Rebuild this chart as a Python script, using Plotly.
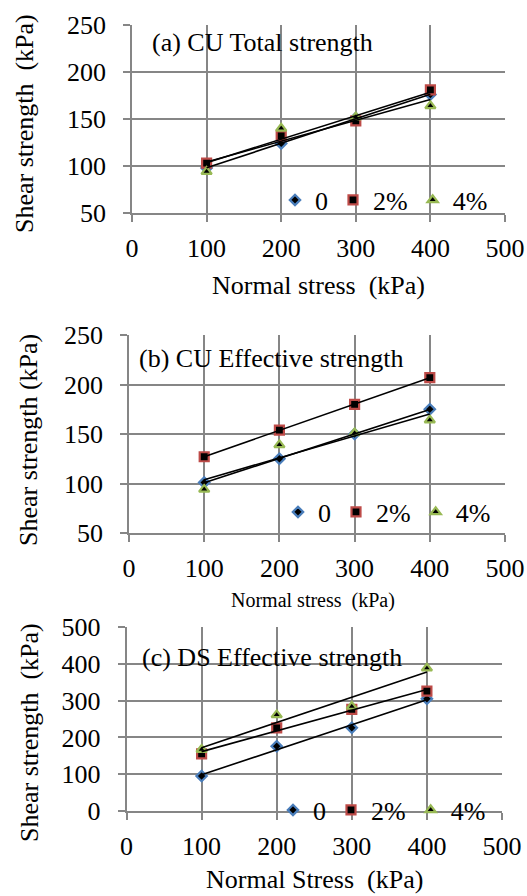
import numpy as np
import plotly.graph_objects as go

# ---------------- data ----------------
stress = [100, 200, 300, 400]
series_names = ["0", "2%", "4%"]

a_0 = [98, 124, 151, 176]
a_2 = [103, 132, 148, 181]
a_4 = [94, 140, 152, 164]

b_0 = [101, 125, 150, 175]
b_2 = [127, 154, 180, 207]
b_4 = [94, 139, 151, 164]

c_0 = [95, 176, 226, 305]
c_2 = [155, 226, 276, 326]
c_4 = [167, 261, 284, 388]

x_ticks = [0, 100, 200, 300, 400, 500]
ab_y_ticks = [50, 100, 150, 200, 250]
c_y_ticks = [0, 100, 200, 300, 400, 500]

panel_titles = ["(a) CU Total strength", "(b) CU Effective strength", "(c) DS Effective strength"]
x_titles = ["Normal stress  (kPa)", "Normal stress  (kPa)", "Normal Stress  (kPa)"]
y_titles = ["Shear strength  (kPa)", "Shear strength (kPa)", "Shear strength  (kPa)"]

# ---------------- style ----------------
W, H = 527, 896
FONT = "'Liberation Serif', 'Times New Roman', Times, serif"
GRID = "#868686"
edge_colors = ["#4A7EBB", "#BE4B48", "#98B954"]
symbols = ["diamond", "square", "triangle-up"]
sizes = [8, 9, 9]

def px(x):
    return x / W

def py(y):
    return 1 - y / H

# panel geometry (pixels): x0, x1, ytop, ybottom
geo = [
    (132, 505, 25, 213),
    (129, 505, 335, 533),
    (126.5, 502, 627, 811),
]

fig = go.Figure()
data_sets = [[a_0, a_2, a_4], [b_0, b_2, b_4], [c_0, c_2, c_4]]
legend_names = ["legend", "legend2", "legend3"]

for p, sets in enumerate(data_sets):
    xa = "x" if p == 0 else f"x{p+1}"
    ya = "y" if p == 0 else f"y{p+1}"
    for k, vals in enumerate(sets):
        fig.add_trace(go.Scatter(
            x=stress, y=vals, mode="markers", name=series_names[k],
            xaxis=xa, yaxis=ya, legend=legend_names[p],
            marker=dict(symbol=symbols[k], size=sizes[k], color="black",
                        line=dict(color=edge_colors[k], width=2.2)),
        ))
    for k, vals in enumerate(sets):
        m, c = np.polyfit(stress, vals, 1)
        xs = [min(stress), max(stress)]
        fig.add_trace(go.Scatter(
            x=xs, y=[m * xs[0] + c, m * xs[1] + c], mode="lines",
            xaxis=xa, yaxis=ya, showlegend=False, hoverinfo="skip",
            line=dict(color="black", width=1.6),
        ))

axis_common = dict(
    showgrid=True, gridcolor=GRID, gridwidth=1.6, zeroline=False,
    showline=True, linecolor=GRID, linewidth=1.6,
    ticks="outside", ticklen=7, tickcolor=GRID, tickwidth=1.6,
    tickfont=dict(family=FONT, size=26, color="black"),
    automargin=False,
)

layout = dict(
    width=W, height=H, margin=dict(l=0, r=0, t=0, b=0, autoexpand=False),
    paper_bgcolor="white", plot_bgcolor="white",
    font=dict(family=FONT, size=26, color="black"),
)

yranges = [(50, 250), (50, 250), (0, 500)]
ytickvals = [ab_y_ticks, ab_y_ticks, c_y_ticks]
for p in range(3):
    x0, x1, yt, yb = geo[p]
    sx = "" if p == 0 else str(p + 1)
    layout[f"xaxis{sx}"] = dict(axis_common, domain=[px(x0), px(x1)], range=[0, 500],
                                tickvals=x_ticks, anchor=f"y{sx}", ticklabelstandoff=4)
    layout[f"yaxis{sx}"] = dict(axis_common, domain=[py(yb), py(yt)], range=list(yranges[p]),
                                tickvals=ytickvals[p], anchor=f"x{sx}", ticklabelstandoff=12)

legend_pos = [(493, 200), (496, 512), (491, 810)]
for p in range(3):
    lx, ly = legend_pos[p]
    layout[legend_names[p]] = dict(
        orientation="h", x=px(lx), y=py(ly), xanchor="right", yanchor="middle",
        bgcolor="rgba(0,0,0,0)", font=dict(family=FONT, size=26, color="black"),
        itemwidth=30, tracegroupgap=0,
    )

fig.update_layout(**layout)

annotations = []
title_pos = [(150, 42), (137, 358), (140, 657)]
for p in range(3):
    tx, ty = title_pos[p]
    annotations.append(dict(text=panel_titles[p], x=px(tx), y=py(ty), xref="paper", yref="paper",
                            xanchor="left", yanchor="middle", showarrow=False,
                            font=dict(family=FONT, size=26, color="black")))

xt_pos = [(318, 285, 26, "middle"), (313, 600, 20, "middle"), (314, 896, 26, "bottom")]
for p in range(3):
    tx, ty, fs, anc = xt_pos[p]
    annotations.append(dict(text=x_titles[p], x=px(tx), y=py(ty), xref="paper", yref="paper",
                            xanchor="center", yanchor=anc, showarrow=False,
                            font=dict(family=FONT, size=fs, color="black")))

yt_pos = [(24, 124), (28, 440), (29, 733)]
for p in range(3):
    tx, ty = yt_pos[p]
    annotations.append(dict(text=y_titles[p], x=px(tx), y=py(ty), xref="paper", yref="paper",
                            xanchor="center", yanchor="middle", showarrow=False, textangle=-90,
                            font=dict(family=FONT, size=26, color="black")))

fig.update_layout(annotations=annotations)
fig.write_html("out.html")
